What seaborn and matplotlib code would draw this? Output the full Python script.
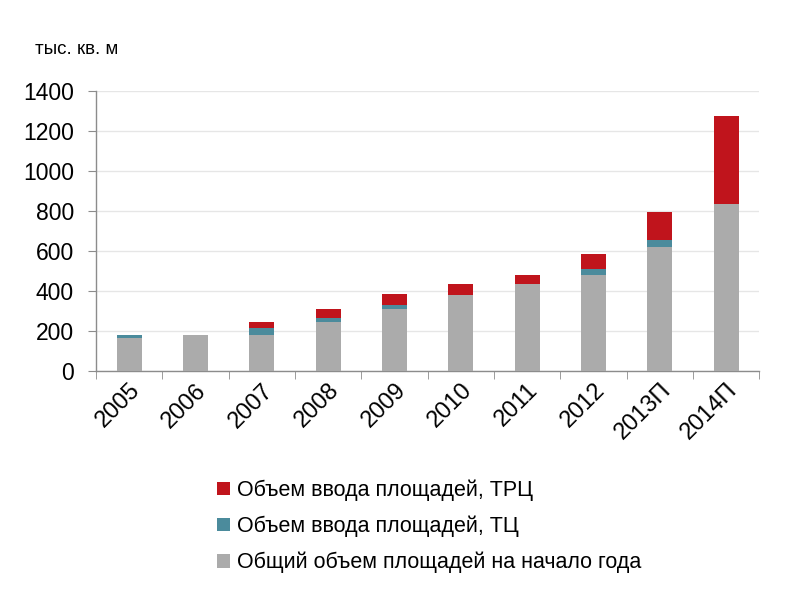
import matplotlib
matplotlib.use("Agg")
import matplotlib.pyplot as plt
import seaborn as sns
import pandas as pd
from matplotlib.patches import Patch

years = ["2005", "2006", "2007", "2008", "2009", "2010", "2011", "2012", "2013П", "2014П"]
total_start = [165, 180, 180, 246, 311, 382, 433, 480, 622, 835]
new_tc = [15, 0, 35, 20, 20, 0, 0, 30, 33, 0]
new_trc = [0, 0, 30, 45, 54, 53, 47, 73, 142, 440]

labels = [
    "Объем ввода площадей, ТРЦ",
    "Объем ввода площадей, ТЦ",
    "Общий объем площадей на начало года",
]
colors = ["#C0141C", "#4B8B9C", "#ABABAB"]

sns.set_style("white")
plt.rcParams["font.family"] = ["Liberation Sans Narrow", "Liberation Sans", "DejaVu Sans"]
plt.rcParams["text.color"] = "black"
plt.rcParams["xtick.color"] = "black"
plt.rcParams["ytick.color"] = "black"

df = pd.DataFrame({"year": years, "gray": total_start, "tc": new_tc, "trc": new_trc})
df["cum_tc"] = df["gray"] + df["tc"]
df["cum_trc"] = df["cum_tc"] + df["trc"]

fig = plt.figure(figsize=(7.85, 6), dpi=100)
ax = fig.add_axes([0.1223, 0.3817, 0.845, 0.4666])

# stacked bars drawn as overlapping cumulative totals
for col, c in zip(["cum_trc", "cum_tc", "gray"], colors):
    sns.barplot(data=df, x="year", y=col, color=c, width=0.38,
                saturation=1, linewidth=0, edgecolor="none", ax=ax, zorder=3)

ax.set_ylim(0, 1400)
ax.set_xlim(-0.5, len(years) - 0.5)
ax.set_yticks(range(0, 1401, 200))
ax.yaxis.grid(True, color="#E6E6E6", linewidth=1, zorder=0)
ax.set_axisbelow(True)
ax.set_xlabel("")
ax.set_ylabel("")

for s in ["top", "right"]:
    ax.spines[s].set_visible(False)
for s in ["left", "bottom"]:
    ax.spines[s].set_color("#8C8C8C")
    ax.spines[s].set_linewidth(1)

ax.tick_params(axis="y", labelsize=16.5, length=6, color="#8C8C8C", labelcolor="black",
               direction="out", left=True, pad=10)
ax.tick_params(axis="x", which="major", length=0, labelsize=17, labelcolor="black", pad=6)
ax.set_xticks([i + 0.5 for i in range(-1, len(years))], minor=True)
ax.tick_params(axis="x", which="minor", length=6, color="#8C8C8C", direction="out",
               bottom=True)
for lbl in ax.get_xticklabels():
    lbl.set_rotation(45)
    lbl.set_ha("right")
    lbl.set_rotation_mode("anchor")

fig.text(0.045, 0.918, "тыс. кв. м", fontsize=13.5, ha="left", va="center")

handles = [Patch(facecolor=c, edgecolor="none") for c in colors]
fig.legend(handles, labels, loc="upper left", bbox_to_anchor=(0.265, 0.215),
           frameon=False, fontsize=15.5, handlelength=0.6, handleheight=0.6,
           handletextpad=0.33, labelspacing=0.68, borderaxespad=0)

fig.savefig("out.png", dpi=100)
